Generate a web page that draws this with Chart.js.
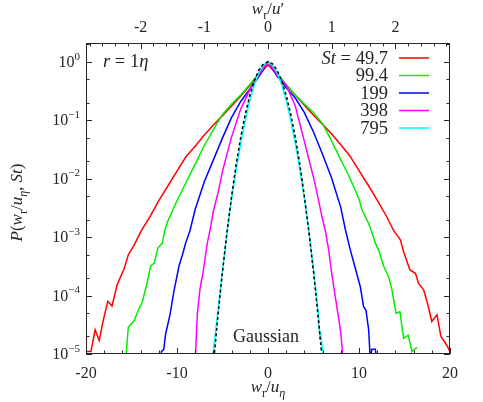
<!DOCTYPE html>
<html>
<head>
<meta charset="utf-8">
<script src="https://cdn.jsdelivr.net/npm/chart.js@4.4.1/dist/chart.umd.min.js"></script>
<style>
  html, body { margin: 0; padding: 0; background: #fff; }
  canvas { display: block; }
</style>
</head>
<body>
<canvas id="pdf" width="483" height="402"></canvas>
<script>
// P(w_r/u_eta, St) at r = 1 eta, log y axis

const X_TICKS  = [-20, -10, 0, 10, 20];
const X2_TICKS = [-2, -1, 0, 1, 2];          // w_r/u'
const Y_TICKS  = [1, 1e-1, 1e-2, 1e-3, 1e-4, 1e-5];
const U_RATIO  = 7.0;                        // u'/u_eta, links top and bottom axes

const ST_LABELS = ['49.7', '99.4', '199', '398', '795'];
const COLORS    = ['#ff0000', '#00ee00', '#0000ff', '#ff00ff', '#00ffff'];

const st497X = [-20, -19.45, -19.0, -18.55, -18.1, -17.6, -17.14, -16.6, -16.2, -15.8, -15.35, -14.7, -13.9, -13, -12, -11, -10, -9, -8, -7, -6, -5, -4, -3, -2, -1, 0,
                1, 2, 3, 4, 5, 6, 7, 8, 9, 10, 11, 12, 13, 13.8, 14.55, 14.9, 15.6, 16.2, 16.56, 17.1, 17.58, 18.0, 18.57, 19.0, 19.67, 20.0];
const st497P = [1.1e-5, 1.1e-5, 2.6e-5, 1.7e-5, 3.8e-5, 8.0e-5, 6.6e-5, 1.5e-4, 2.1e-4, 2.9e-4, 5.0e-4, 7.4e-4, 1.3e-3, 2.2e-3, 4.2e-3, 7.5e-3, 0.0135, 0.024, 0.036, 0.056, 0.083, 0.12, 0.175, 0.26, 0.39, 0.59, 0.89,
                0.6, 0.4, 0.27, 0.18, 0.122, 0.085, 0.058, 0.038, 0.0245, 0.0138, 0.0078, 0.0043, 0.0023, 1.3e-3, 9e-4, 5.6e-4, 2.75e-4, 2.4e-4, 1.6e-4, 1.25e-4, 6.9e-5, 3.6e-5, 4.7e-5, 2.0e-5, 1.4e-5, 1.1e-5];

const st994X = [-15.7, -15.35, -14.7, -14.3, -13.8, -13.27, -12.9, -12.5, -12.1, -11.6, -11.35, -11, -10, -9, -8, -7, -6, -5, -4, -3, -2, -1, 0,
                1, 2, 3, 4, 5, 6, 7, 8, 9, 10, 10.3, 11, 11.35, 11.8, 12.23, 12.7, 13.26, 13.6, 14.07, 14.5, 14.9, 15.4, 15.82, 16.37];
const st994P = [6e-6, 2.9e-5, 3.7e-5, 5.4e-5, 7.9e-5, 1.67e-4, 3.2e-4, 3.6e-4, 6.5e-4, 7.9e-4, 1.3e-3, 1.9e-3, 4.2e-3, 8.7e-3, 0.0178, 0.037, 0.069, 0.126, 0.19, 0.27, 0.41, 0.63, 1.0,
                0.63, 0.41, 0.27, 0.19, 0.135, 0.087, 0.044, 0.021, 0.0103, 0.0045, 0.0030, 0.0018, 1.3e-3, 7.9e-4, 5.6e-4, 3.2e-4, 2.1e-4, 1.3e-4, 5e-5, 5.3e-5, 1.85e-5, 2.1e-5, 1.1e-5, 1.3e-5];

const st199X = [-11.8, -11.72, -11.45, -11.25, -10.77, -10.33, -9.78, -9.4, -9.05, -8.57, -8, -7, -6, -5, -4, -3, -2, -1, 0,
                1, 2, 3, 4, 5, 6, 7, 8, 8.5, 9.05, 9.6, 10.15, 10.5, 10.77, 11.06, 11.24, 11.4, 11.8, 11.95];
const st199P = [6e-6, 1.1e-5, 1.2e-5, 2.2e-5, 4.7e-5, 1.2e-4, 3.2e-4, 5.0e-4, 7.9e-4, 1.3e-3, 3.0e-3, 8.9e-3, 0.021, 0.05, 0.112, 0.21, 0.34, 0.56, 1.0,
                0.57, 0.36, 0.24, 0.135, 0.063, 0.026, 0.0102, 0.0032, 1.35e-3, 6e-4, 2.9e-4, 1.4e-4, 6.5e-5, 5.6e-5, 2.6e-5, 8e-6, 1.2e-5, 1.2e-5, 8e-6];

const st398X = [-8.05, -7.76, -7.47, -7.1, -6.67, -6.37, -6, -5.46, -5, -4, -3, -2, -1, 0,
                1, 2, 3, 4, 5, 5.35, 6, 6.3, 6.67, 7.0, 7.39, 7.76, 8.0, 8.2, 8.28];
const st398P = [5e-6, 5e-5, 1.3e-4, 2.7e-4, 7.9e-4, 1.3e-3, 2.8e-3, 6.0e-3, 0.0135, 0.052, 0.155, 0.33, 0.6, 1.0,
                0.6, 0.40, 0.175, 0.043, 0.0105, 6.0e-3, 2.0e-3, 1.3e-3, 6e-4, 2.4e-4, 9.6e-5, 4.1e-5, 2.3e-5, 1e-5, 5e-6];

const st795X = [-6.1, -5.8, -5.5, -5, -4.5, -4, -3.5, -3, -2.5, -2, -1.5, -1, -0.5, 0,
                0.5, 1, 1.5, 2, 2.5, 3, 3.5, 4, 4.5, 5, 5.5, 5.7, 5.8, 6.1];
const st795P = [8e-6, 2.2e-5, 5.5e-5, 2.7e-4, 1.2e-3, 4.5e-3, 0.0145, 0.04, 0.1, 0.22, 0.41, 0.66, 0.88, 0.97,
                0.88, 0.66, 0.41, 0.22, 0.1, 0.04, 0.0145, 4.5e-3, 1.2e-3, 2.7e-4, 5.5e-5, 2.0e-5, 2.2e-5, 8e-6];

const gaussX = [-6, -5.5, -5, -4.5, -4, -3.5, -3, -2.5, -2, -1.5, -1, -0.5, 0, 0.5, 1, 1.5, 2, 2.5, 3, 3.5, 4, 4.5, 5, 5.5, 6];
const gaussP = [6.8e-6, 4.5e-5, 2.57e-4, 1.24e-3, 5.0e-3, 0.0174, 0.051, 0.126, 0.267, 0.475, 0.72, 0.92, 1.0,
                0.92, 0.72, 0.475, 0.267, 0.126, 0.051, 0.0174, 5.0e-3, 1.24e-3, 2.57e-4, 4.5e-5, 6.8e-6];

const FONT = '"Liberation Serif", "DejaVu Serif", serif';
const INK  = '#262626';

const toPts = (xs, ps) => xs.map((x, i) => ({ x, y: ps[i] }));

const series = [
  { x: st497X, p: st497P },
  { x: st994X, p: st994P },
  { x: st199X, p: st199P },
  { x: st398X, p: st398P },
  { x: st795X, p: st795P },
];

// draw bits of text with italic / sub / sup parts, y = baseline
function rich(ctx, parts, x, y, align, size) {
  const fontFor = p => `${p.it ? 'italic ' : ''}${(p.sub || p.sup) ? Math.round(size * 0.7) : size}px ${FONT}`;
  let w = 0;
  parts.forEach(p => { ctx.font = fontFor(p); w += ctx.measureText(p.t).width; });
  let cx = align === 'center' ? x - w / 2 : align === 'right' ? x - w : x;
  parts.forEach(p => {
    ctx.font = fontFor(p);
    const dy = p.sub ? size * 0.28 : p.sup ? -size * 0.45 : 0;
    ctx.fillText(p.t, cx, y + dy);
    cx += ctx.measureText(p.t).width;
  });
}

const framePlugin = {
  id: 'frame',
  afterDatasetsDraw(chart) {
    const { ctx, chartArea: a, scales } = chart;
    const xs = scales.x, x2 = scales.x2, ys = scales.y;
    ctx.save();
    ctx.strokeStyle = INK;
    ctx.lineWidth = 1;
    ctx.strokeRect(a.left + 0.5, a.top + 0.5, a.right - a.left - 1, a.bottom - a.top - 1);

    ctx.beginPath();
    // bottom axis: major every 10, minor every 2
    for (let v = -20; v <= 20; v += 2) {
      const px = Math.round(xs.getPixelForValue(v)) + 0.5;
      const len = v % 10 === 0 ? 6 : 3.5;
      ctx.moveTo(px, a.bottom); ctx.lineTo(px, a.bottom - len);
    }
    // top axis: major every 1, minor every 0.2
    for (let k = -14; k <= 14; k++) {
      const v = k / 5;
      const px = Math.round(x2.getPixelForValue(v)) + 0.5;
      const len = k % 5 === 0 ? 6 : 3.5;
      ctx.moveTo(px, a.top); ctx.lineTo(px, a.top + len);
    }
    // left and right: decades plus 2x and 5x
    for (let e = -5; e <= 0; e++) {
      [1, 2, 5].forEach(m => {
        const v = m * Math.pow(10, e);
        if (v > ys.max) return;
        const py = Math.round(ys.getPixelForValue(v)) + 0.5;
        const len = m === 1 ? 6 : 3.5;
        ctx.moveTo(a.left, py); ctx.lineTo(a.left + len, py);
        ctx.moveTo(a.right, py); ctx.lineTo(a.right - len, py);
      });
    }
    ctx.stroke();

    ctx.fillStyle = INK;
    ctx.textBaseline = 'alphabetic';

    // tick labels
    X_TICKS.forEach(v => {
      rich(ctx, [{ t: String(v) }], xs.getPixelForValue(v), a.bottom + 24, 'center', 16);
    });
    X2_TICKS.forEach(v => {
      rich(ctx, [{ t: String(v) }], x2.getPixelForValue(v), a.top - 11, 'center', 16);
    });
    Y_TICKS.forEach(v => {
      const e = Math.round(Math.log10(v));
      rich(ctx, [{ t: '10' }, { t: e < 0 ? '\u2212' + (-e) : String(e), sup: true }],
           a.left - 6, ys.getPixelForValue(v) + 5, 'right', 16);
    });

    // axis titles
    rich(ctx, [{ t: 'w', it: true }, { t: 'r', sub: true }, { t: '/' }, { t: 'u', it: true }, { t: '\u03b7', it: true, sub: true }],
         (a.left + a.right) / 2, a.bottom + 38, 'center', 17);
    rich(ctx, [{ t: 'w', it: true }, { t: 'r', sub: true }, { t: '/' }, { t: 'u', it: true }, { t: '\u2032' }],
         (a.left + a.right) / 2, 14, 'center', 17);
    ctx.save();
    ctx.translate(22, (a.top + a.bottom) / 2 + 4);
    ctx.rotate(-Math.PI / 2);
    rich(ctx, [{ t: 'P', it: true }, { t: '(' }, { t: 'w', it: true }, { t: 'r', sub: true }, { t: '/' },
               { t: 'u', it: true }, { t: '\u03b7', it: true, sub: true }, { t: ', ' }, { t: 'St', it: true }, { t: ')' }],
         0, 0, 'center', 17);
    ctx.restore();

    // annotations
    rich(ctx, [{ t: 'r', it: true }, { t: ' = 1' }, { t: '\u03b7', it: true }], a.left + 17, 67, 'left', 18.5);
    rich(ctx, [{ t: 'Gaussian' }], xs.getPixelForValue(0) - 2, a.bottom - 12, 'center', 18);

    // legend
    ST_LABELS.forEach((lab, i) => {
      const rowY = 58 + i * 17.5;
      const parts = i === 0 ? [{ t: 'St', it: true }, { t: ' = ' + lab }] : [{ t: lab }];
      rich(ctx, parts, 388, rowY + 5.5, 'right', 18.5);
      ctx.strokeStyle = COLORS[i];
      ctx.lineWidth = 1.5;
      ctx.beginPath();
      ctx.moveTo(399, rowY); ctx.lineTo(429, rowY);
      ctx.stroke();
    });
    ctx.restore();
  },
};

// reversed so red is drawn first and the Gaussian ends up on top
const datasets = [
  {
    data: toPts(gaussX, gaussP),
    borderColor: '#000000',
    borderWidth: 1.5,
    borderDash: [3, 2.5],
  },
  ...series.map((s, i) => ({
    data: toPts(s.x, s.p),
    borderColor: COLORS[i],
    borderWidth: 1.5,
  })).reverse(),
];

new Chart(document.getElementById('pdf'), {
  type: 'line',
  data: { datasets },
  options: {
    responsive: false,
    animation: false,
    layout: { padding: { left: 86, right: 33, top: 43, bottom: 48 } },
    elements: { point: { radius: 0 }, line: { tension: 0 } },
    plugins: { legend: { display: false }, tooltip: { enabled: false } },
    scales: {
      x:  { type: 'linear', min: -20, max: 20, display: false },
      x2: { type: 'linear', min: -20 / U_RATIO, max: 20 / U_RATIO, display: false },
      y:  { type: 'logarithmic', min: 1e-5, max: 2.1, display: false },
    },
  },
  plugins: [framePlugin],
});
</script>
</body>
</html>
